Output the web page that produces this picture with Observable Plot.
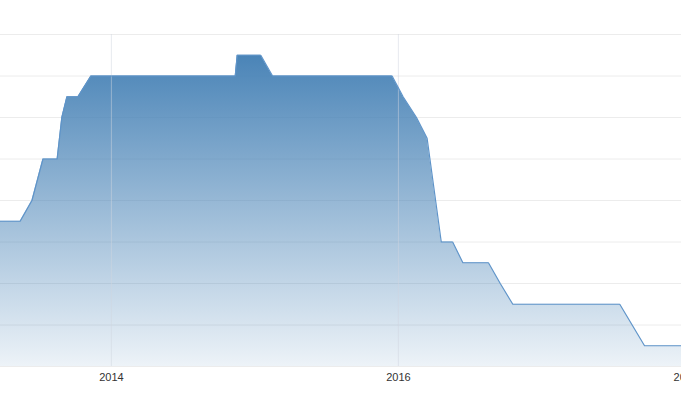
<!DOCTYPE html>
<html>
<head>
<meta charset="utf-8">
<script src="https://cdn.jsdelivr.net/npm/d3@7"></script>
<script src="https://cdn.jsdelivr.net/npm/@observablehq/plot@0.6"></script>
<style>
  html, body { margin: 0; padding: 0; background: #fff; overflow: hidden; }
  #chart svg { display: block; }
</style>
</head>
<body>
<div id="chart"></div>
<script>
// Data
const dates = [
  "2013-03-15", "2013-05-14", "2013-06-13", "2013-07-11", "2013-08-16",
  "2013-08-28", "2013-09-10", "2013-10-08", "2013-11-10", "2014-11-12",
  "2014-11-17", "2015-01-16", "2015-02-15", "2015-12-16", "2016-01-13",
  "2016-02-16", "2016-03-14", "2016-04-19", "2016-05-18", "2016-06-13",
  "2016-08-17", "2016-09-16", "2016-10-18", "2017-07-17", "2017-09-18",
  "2018-01-15"
];
const values = [
  3.5, 3.5, 4.0, 5.0, 5.0,
  6.0, 6.5, 6.5, 7.0, 7.0,
  7.5, 7.5, 7.0, 7.0, 6.5,
  6.0, 5.5, 3.0, 3.0, 2.5,
  2.5, 2.0, 1.5, 1.5, 0.5,
  0.5
];
const xTickDates = ["2014-01-01", "2016-01-01", "2018-01-01"];
const xTickLabels = ["2014", "2016", "2018"];
const yGridValues = [0, 1, 2, 3, 4, 5, 6, 7, 8];
const xDomain = ["2013-03-25", "2017-12-21"];
const yDomain = [0, 8];

const data = dates.map((d, i) => ({ date: new Date(d), value: values[i] }));
const xTicks = xTickDates.map((d, i) => ({ date: new Date(d), label: xTickLabels[i] }));

const gradientDefs = () => {
  const defs = d3.create("svg:defs");
  const g = defs.append("linearGradient")
    .attr("id", "areaGrad")
    .attr("x1", 0).attr("y1", 0).attr("x2", 0).attr("y2", 1);
  g.append("stop").attr("offset", "0%").attr("stop-color", "#4a84b7").attr("stop-opacity", 1);
  g.append("stop").attr("offset", "100%").attr("stop-color", "#4a84b7").attr("stop-opacity", 0.1);
  return defs.node();
};

const chart = Plot.plot({
  width: 681,
  height: 400,
  marginTop: 34,
  marginBottom: 34,
  marginLeft: 0,
  marginRight: 0,
  style: { fontFamily: "'Liberation Sans', Arial, sans-serif", background: "#fff", overflow: "visible" },
  x: { type: "utc", domain: xDomain.map(d => new Date(d)), axis: null },
  y: { domain: yDomain, axis: null },
  marks: [
    gradientDefs,
    Plot.ruleY(yGridValues, { stroke: "#ececec", strokeWidth: 1 }),
    Plot.areaY(data, { x: "date", y: "value", fill: "url(#areaGrad)", clip: true }),
    Plot.ruleX(xTicks.filter(t => t.label !== "2018"), { x: "date", stroke: "#cfd6df", strokeOpacity: 0.5, strokeWidth: 1 }),
    Plot.lineY(data, { x: "date", y: "value", stroke: "#5f94c9", strokeWidth: 1.2, clip: true }),
    Plot.text(xTicks, {
      x: "date", text: "label", frameAnchor: "bottom", lineAnchor: "top",
      dy: 7, fontSize: 11, fill: "#333"
    })
  ]
});
document.getElementById("chart").appendChild(chart);
</script>
</body>
</html>
